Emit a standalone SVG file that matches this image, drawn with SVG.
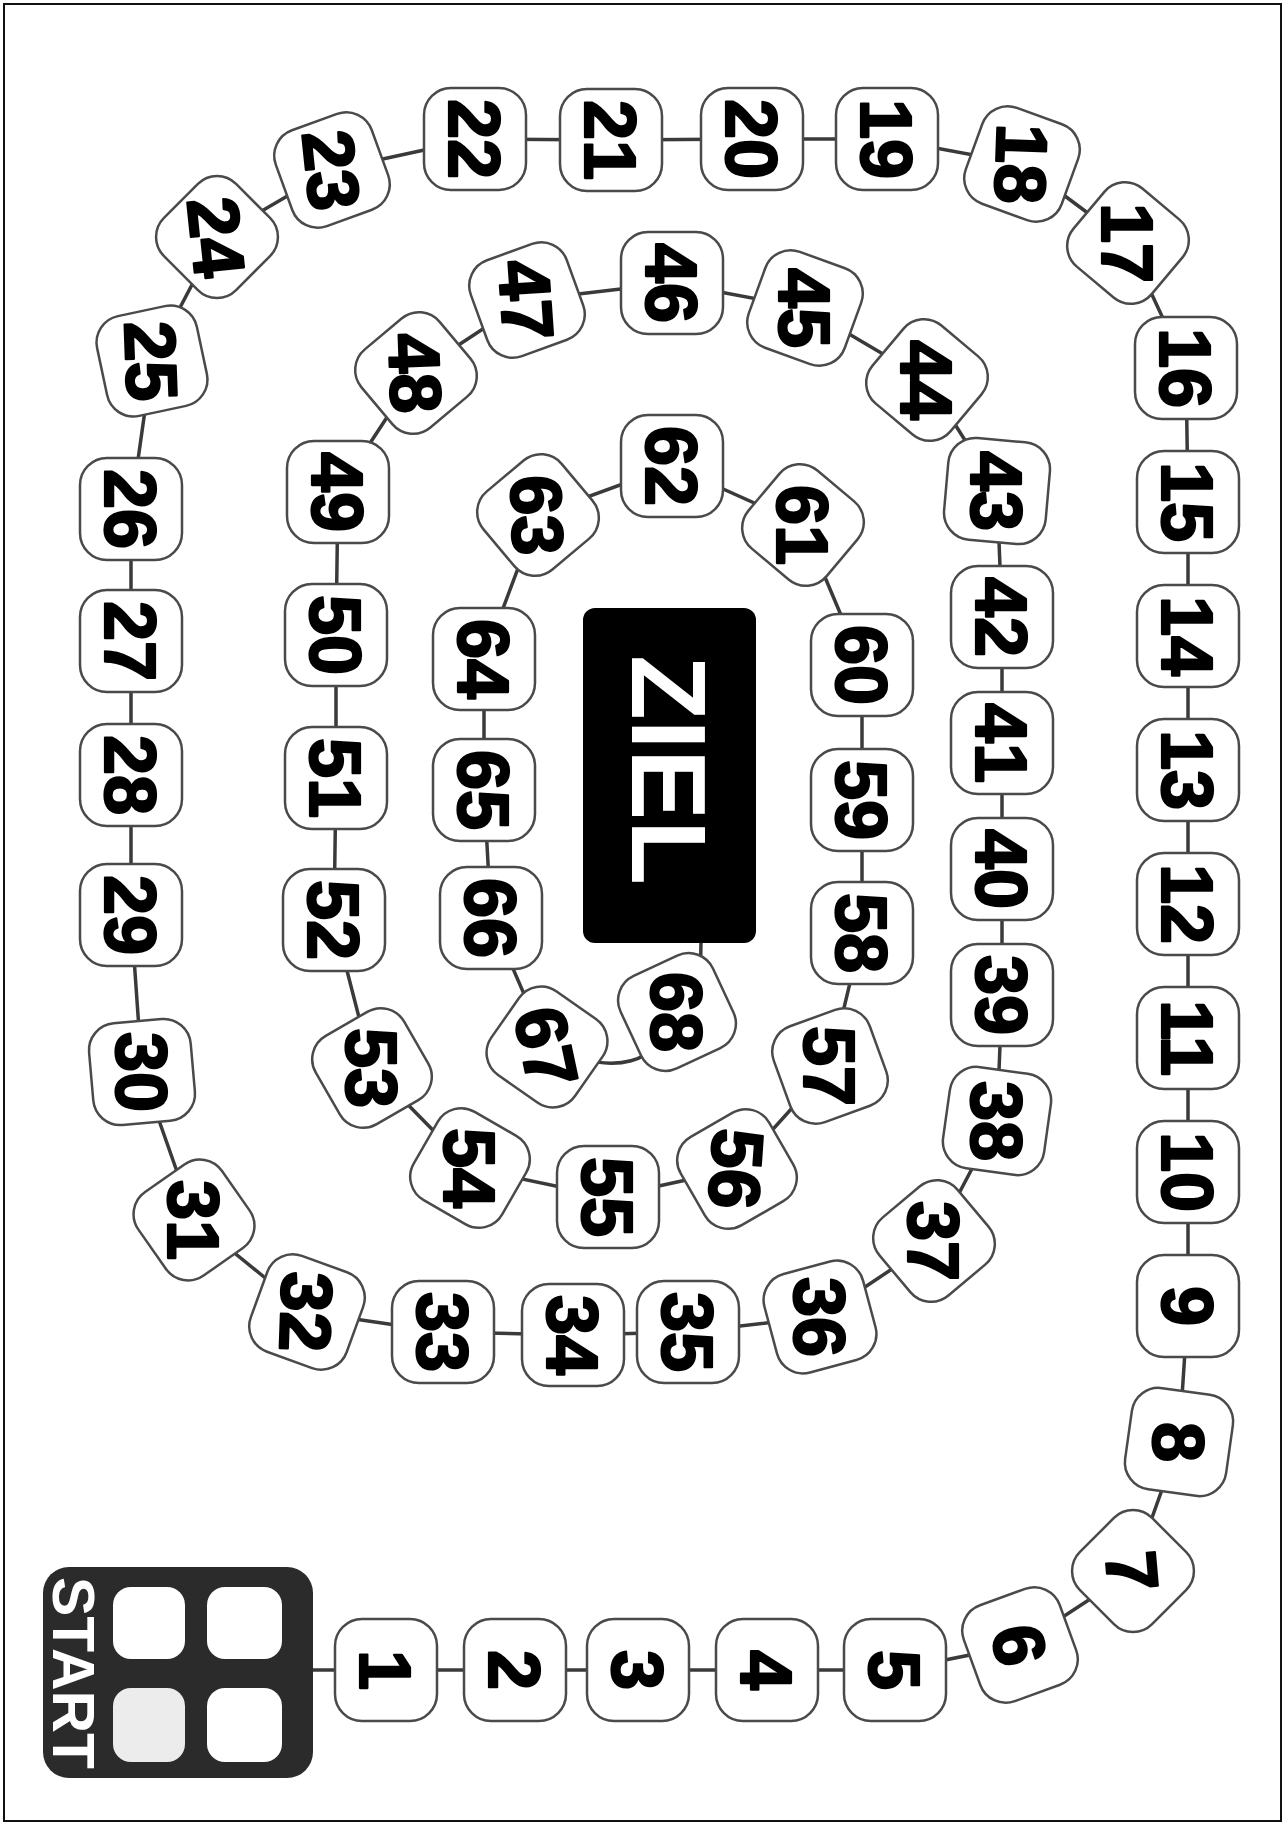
<svg xmlns="http://www.w3.org/2000/svg" width="1288" height="1827" viewBox="0 0 1288 1827">
<defs>
<style>
.tile text{font-family:"Liberation Sans",Arial,sans-serif;font-weight:bold;font-size:72px;fill:#000;stroke:#000;stroke-width:2.2;stroke-linejoin:round;text-anchor:middle}
.conn{fill:none;stroke:#3a3a3a;stroke-width:3.5;stroke-linejoin:round}
.lbl{font-family:"Liberation Sans",Arial,sans-serif;font-weight:bold;fill:#fff;text-anchor:middle}
</style>
<rect id="tl" x="-51" y="-51" width="102" height="102" rx="27" ry="27" fill="#fff" stroke="#4a4a4a" stroke-width="2.5"/>
</defs>
<rect x="4" y="4" width="1277" height="1817" fill="#fff" stroke="#111" stroke-width="2"/>
<g id="connectors">
<path class="conn" d="M313,1670 L386,1670 L515,1670 L638,1670 L767,1670 L895,1670 L1020,1645 L1133,1571 L1179,1442 L1188,1306 L1188,1172 L1188,1038 L1188,904 L1188,770 L1188,636 L1188,502 L1186,368 L1128,243 L1022,164 L887,139 L752,139 L611,140 L475,139 L332,170 L217,237 L152,361 L131,509 L131,641 L131,775 L131,915 L142,1072 L194,1220 L307,1312 L443,1332 L573,1335 L688,1332 L820,1317 L934,1241 L997,1121 L1002,995 L1002,869 L1002,743 L1002,617 L997,491 L927,380 L805,308 L672,283 L527,300 L416,373 L338,492 L336,635 L336,778 L334,920 L372,1068 L470,1168 L608,1197 L737,1169 L830,1066 L862,933 L862,800 L862,665 L803,525 L672,466 L538,515 L484,659 L484,790 L491,918 L547,1047 Q650,1092 677,1012"/>
<path class="conn" d="M700,1000 L701,940"/>
</g>
<g id="start">
<rect x="43" y="1567" width="270" height="211" rx="26" fill="#2b2b2b"/>
<rect x="113" y="1587" width="72" height="72" rx="18" fill="#fff"/>
<rect x="207" y="1587" width="75" height="72" rx="18" fill="#fff"/>
<rect x="113" y="1688" width="72" height="74" rx="18" fill="#ececec"/>
<rect x="207" y="1688" width="75" height="74" rx="18" fill="#fff"/>
<text class="lbl" transform="translate(75,1673) rotate(90)" y="22" font-size="60" textLength="192" lengthAdjust="spacingAndGlyphs">START</text>
</g>
<g id="ziel">
<rect x="583" y="608" width="173" height="335" rx="12" fill="#000"/>
<text class="lbl" transform="translate(670,770) rotate(90)" y="38" font-size="106" textLength="230" lengthAdjust="spacingAndGlyphs">ZIEL</text>
</g>
<g id="n1" class="tile" transform="translate(386,1670)"><use href="#tl"/><text transform="rotate(90)" y="26">1</text></g>
<g id="n2" class="tile" transform="translate(515,1670)"><use href="#tl"/><text transform="rotate(90)" y="26">2</text></g>
<g id="n3" class="tile" transform="translate(638,1670)"><use href="#tl"/><text transform="rotate(90)" y="26">3</text></g>
<g id="n4" class="tile" transform="translate(767,1670)"><use href="#tl"/><text transform="rotate(90)" y="26">4</text></g>
<g id="n5" class="tile" transform="translate(895,1670)"><use href="#tl"/><text transform="rotate(90)" y="26">5</text></g>
<g id="n6" class="tile" transform="translate(1020,1645)"><use href="#tl" transform="rotate(-20)"/><text transform="rotate(80)" y="26">6</text></g>
<g id="n7" class="tile" transform="translate(1133,1571)"><use href="#tl" transform="rotate(-45)"/><text transform="rotate(85)" y="26">7</text></g>
<g id="n8" class="tile" transform="translate(1179,1442)"><use href="#tl" transform="rotate(8)"/><text transform="rotate(90)" y="26">8</text></g>
<g id="n9" class="tile" transform="translate(1188,1306)"><use href="#tl"/><text transform="rotate(90)" y="26">9</text></g>
<g id="n10" class="tile" transform="translate(1188,1172)"><use href="#tl"/><text transform="rotate(90)" y="26">10</text></g>
<g id="n11" class="tile" transform="translate(1188,1038)"><use href="#tl"/><text transform="rotate(90)" y="26">11</text></g>
<g id="n12" class="tile" transform="translate(1188,904)"><use href="#tl"/><text transform="rotate(90)" y="26">12</text></g>
<g id="n13" class="tile" transform="translate(1188,770)"><use href="#tl"/><text transform="rotate(90)" y="26">13</text></g>
<g id="n14" class="tile" transform="translate(1188,636)"><use href="#tl"/><text transform="rotate(90)" y="26">14</text></g>
<g id="n15" class="tile" transform="translate(1188,502)"><use href="#tl"/><text transform="rotate(90)" y="26">15</text></g>
<g id="n16" class="tile" transform="translate(1186,368)"><use href="#tl"/><text transform="rotate(90)" y="26">16</text></g>
<g id="n17" class="tile" transform="translate(1128,243)"><use href="#tl" transform="rotate(40)"/><text transform="rotate(90)" y="26">17</text></g>
<g id="n18" class="tile" transform="translate(1022,164)"><use href="#tl" transform="rotate(20)"/><text transform="rotate(92)" y="26">18</text></g>
<g id="n19" class="tile" transform="translate(887,139)"><use href="#tl"/><text transform="rotate(90)" y="26">19</text></g>
<g id="n20" class="tile" transform="translate(752,139)"><use href="#tl"/><text transform="rotate(90)" y="26">20</text></g>
<g id="n21" class="tile" transform="translate(611,140)"><use href="#tl"/><text transform="rotate(90)" y="26">21</text></g>
<g id="n22" class="tile" transform="translate(475,139)"><use href="#tl"/><text transform="rotate(90)" y="26">22</text></g>
<g id="n23" class="tile" transform="translate(332,170)"><use href="#tl" transform="rotate(-20)"/><text transform="rotate(84)" y="26">23</text></g>
<g id="n24" class="tile" transform="translate(217,237)"><use href="#tl" transform="rotate(-45)"/><text transform="rotate(84)" y="26">24</text></g>
<g id="n25" class="tile" transform="translate(152,361)"><use href="#tl" transform="rotate(-12)"/><text transform="rotate(88)" y="26">25</text></g>
<g id="n26" class="tile" transform="translate(131,509)"><use href="#tl"/><text transform="rotate(90)" y="26">26</text></g>
<g id="n27" class="tile" transform="translate(131,641)"><use href="#tl"/><text transform="rotate(90)" y="26">27</text></g>
<g id="n28" class="tile" transform="translate(131,775)"><use href="#tl"/><text transform="rotate(90)" y="26">28</text></g>
<g id="n29" class="tile" transform="translate(131,915)"><use href="#tl"/><text transform="rotate(90)" y="26">29</text></g>
<g id="n30" class="tile" transform="translate(142,1072)"><use href="#tl" transform="rotate(-5)"/><text transform="rotate(90)" y="26">30</text></g>
<g id="n31" class="tile" transform="translate(194,1220)"><use href="#tl" transform="rotate(-35)"/><text transform="rotate(90)" y="26">31</text></g>
<g id="n32" class="tile" transform="translate(307,1312)"><use href="#tl" transform="rotate(20)"/><text transform="rotate(92)" y="26">32</text></g>
<g id="n33" class="tile" transform="translate(443,1332)"><use href="#tl"/><text transform="rotate(90)" y="26">33</text></g>
<g id="n34" class="tile" transform="translate(573,1335)"><use href="#tl"/><text transform="rotate(90)" y="26">34</text></g>
<g id="n35" class="tile" transform="translate(688,1332)"><use href="#tl"/><text transform="rotate(90)" y="26">35</text></g>
<g id="n36" class="tile" transform="translate(820,1317)"><use href="#tl" transform="rotate(-15)"/><text transform="rotate(90)" y="26">36</text></g>
<g id="n37" class="tile" transform="translate(934,1241)"><use href="#tl" transform="rotate(-40)"/><text transform="rotate(90)" y="26">37</text></g>
<g id="n38" class="tile" transform="translate(997,1121)"><use href="#tl" transform="rotate(8)"/><text transform="rotate(90)" y="26">38</text></g>
<g id="n39" class="tile" transform="translate(1002,995)"><use href="#tl"/><text transform="rotate(90)" y="26">39</text></g>
<g id="n40" class="tile" transform="translate(1002,869)"><use href="#tl"/><text transform="rotate(90)" y="26">40</text></g>
<g id="n41" class="tile" transform="translate(1002,743)"><use href="#tl"/><text transform="rotate(90)" y="26">41</text></g>
<g id="n42" class="tile" transform="translate(1002,617)"><use href="#tl"/><text transform="rotate(90)" y="26">42</text></g>
<g id="n43" class="tile" transform="translate(997,491)"><use href="#tl" transform="rotate(5)"/><text transform="rotate(90)" y="26">43</text></g>
<g id="n44" class="tile" transform="translate(927,380)"><use href="#tl" transform="rotate(40)"/><text transform="rotate(90)" y="26">44</text></g>
<g id="n45" class="tile" transform="translate(805,308)"><use href="#tl" transform="rotate(20)"/><text transform="rotate(90)" y="26">45</text></g>
<g id="n46" class="tile" transform="translate(672,283)"><use href="#tl"/><text transform="rotate(90)" y="26">46</text></g>
<g id="n47" class="tile" transform="translate(527,300)"><use href="#tl" transform="rotate(-20)"/><text transform="rotate(86)" y="26">47</text></g>
<g id="n48" class="tile" transform="translate(416,373)"><use href="#tl" transform="rotate(-40)"/><text transform="rotate(88)" y="26">48</text></g>
<g id="n49" class="tile" transform="translate(338,492)"><use href="#tl"/><text transform="rotate(90)" y="26">49</text></g>
<g id="n50" class="tile" transform="translate(336,635)"><use href="#tl"/><text transform="rotate(90)" y="26">50</text></g>
<g id="n51" class="tile" transform="translate(336,778)"><use href="#tl"/><text transform="rotate(90)" y="26">51</text></g>
<g id="n52" class="tile" transform="translate(334,920)"><use href="#tl"/><text transform="rotate(90)" y="26">52</text></g>
<g id="n53" class="tile" transform="translate(372,1068)"><use href="#tl" transform="rotate(-30)"/><text transform="rotate(90)" y="26">53</text></g>
<g id="n54" class="tile" transform="translate(470,1168)"><use href="#tl" transform="rotate(30)"/><text transform="rotate(90)" y="26">54</text></g>
<g id="n55" class="tile" transform="translate(608,1197)"><use href="#tl"/><text transform="rotate(90)" y="26">55</text></g>
<g id="n56" class="tile" transform="translate(737,1169)"><use href="#tl" transform="rotate(-30)"/><text transform="rotate(94)" y="26">56</text></g>
<g id="n57" class="tile" transform="translate(830,1066)"><use href="#tl" transform="rotate(-20)"/><text transform="rotate(90)" y="26">57</text></g>
<g id="n58" class="tile" transform="translate(862,933)"><use href="#tl"/><text transform="rotate(90)" y="26">58</text></g>
<g id="n59" class="tile" transform="translate(862,800)"><use href="#tl"/><text transform="rotate(90)" y="26">59</text></g>
<g id="n60" class="tile" transform="translate(862,665)"><use href="#tl"/><text transform="rotate(90)" y="26">60</text></g>
<g id="n61" class="tile" transform="translate(803,525)"><use href="#tl" transform="rotate(40)"/><text transform="rotate(90)" y="26">61</text></g>
<g id="n62" class="tile" transform="translate(672,466)"><use href="#tl"/><text transform="rotate(90)" y="26">62</text></g>
<g id="n63" class="tile" transform="translate(538,515)"><use href="#tl" transform="rotate(-40)"/><text transform="rotate(88)" y="26">63</text></g>
<g id="n64" class="tile" transform="translate(484,659)"><use href="#tl"/><text transform="rotate(90)" y="26">64</text></g>
<g id="n65" class="tile" transform="translate(484,790)"><use href="#tl"/><text transform="rotate(90)" y="26">65</text></g>
<g id="n66" class="tile" transform="translate(491,918)"><use href="#tl"/><text transform="rotate(90)" y="26">66</text></g>
<g id="n67" class="tile" transform="translate(547,1047)"><use href="#tl" transform="rotate(35)"/><text transform="rotate(78)" y="26">67</text></g>
<g id="n68" class="tile" transform="translate(677,1012)"><use href="#tl" transform="rotate(-25)"/><text transform="rotate(90)" y="26">68</text></g>
</svg>
